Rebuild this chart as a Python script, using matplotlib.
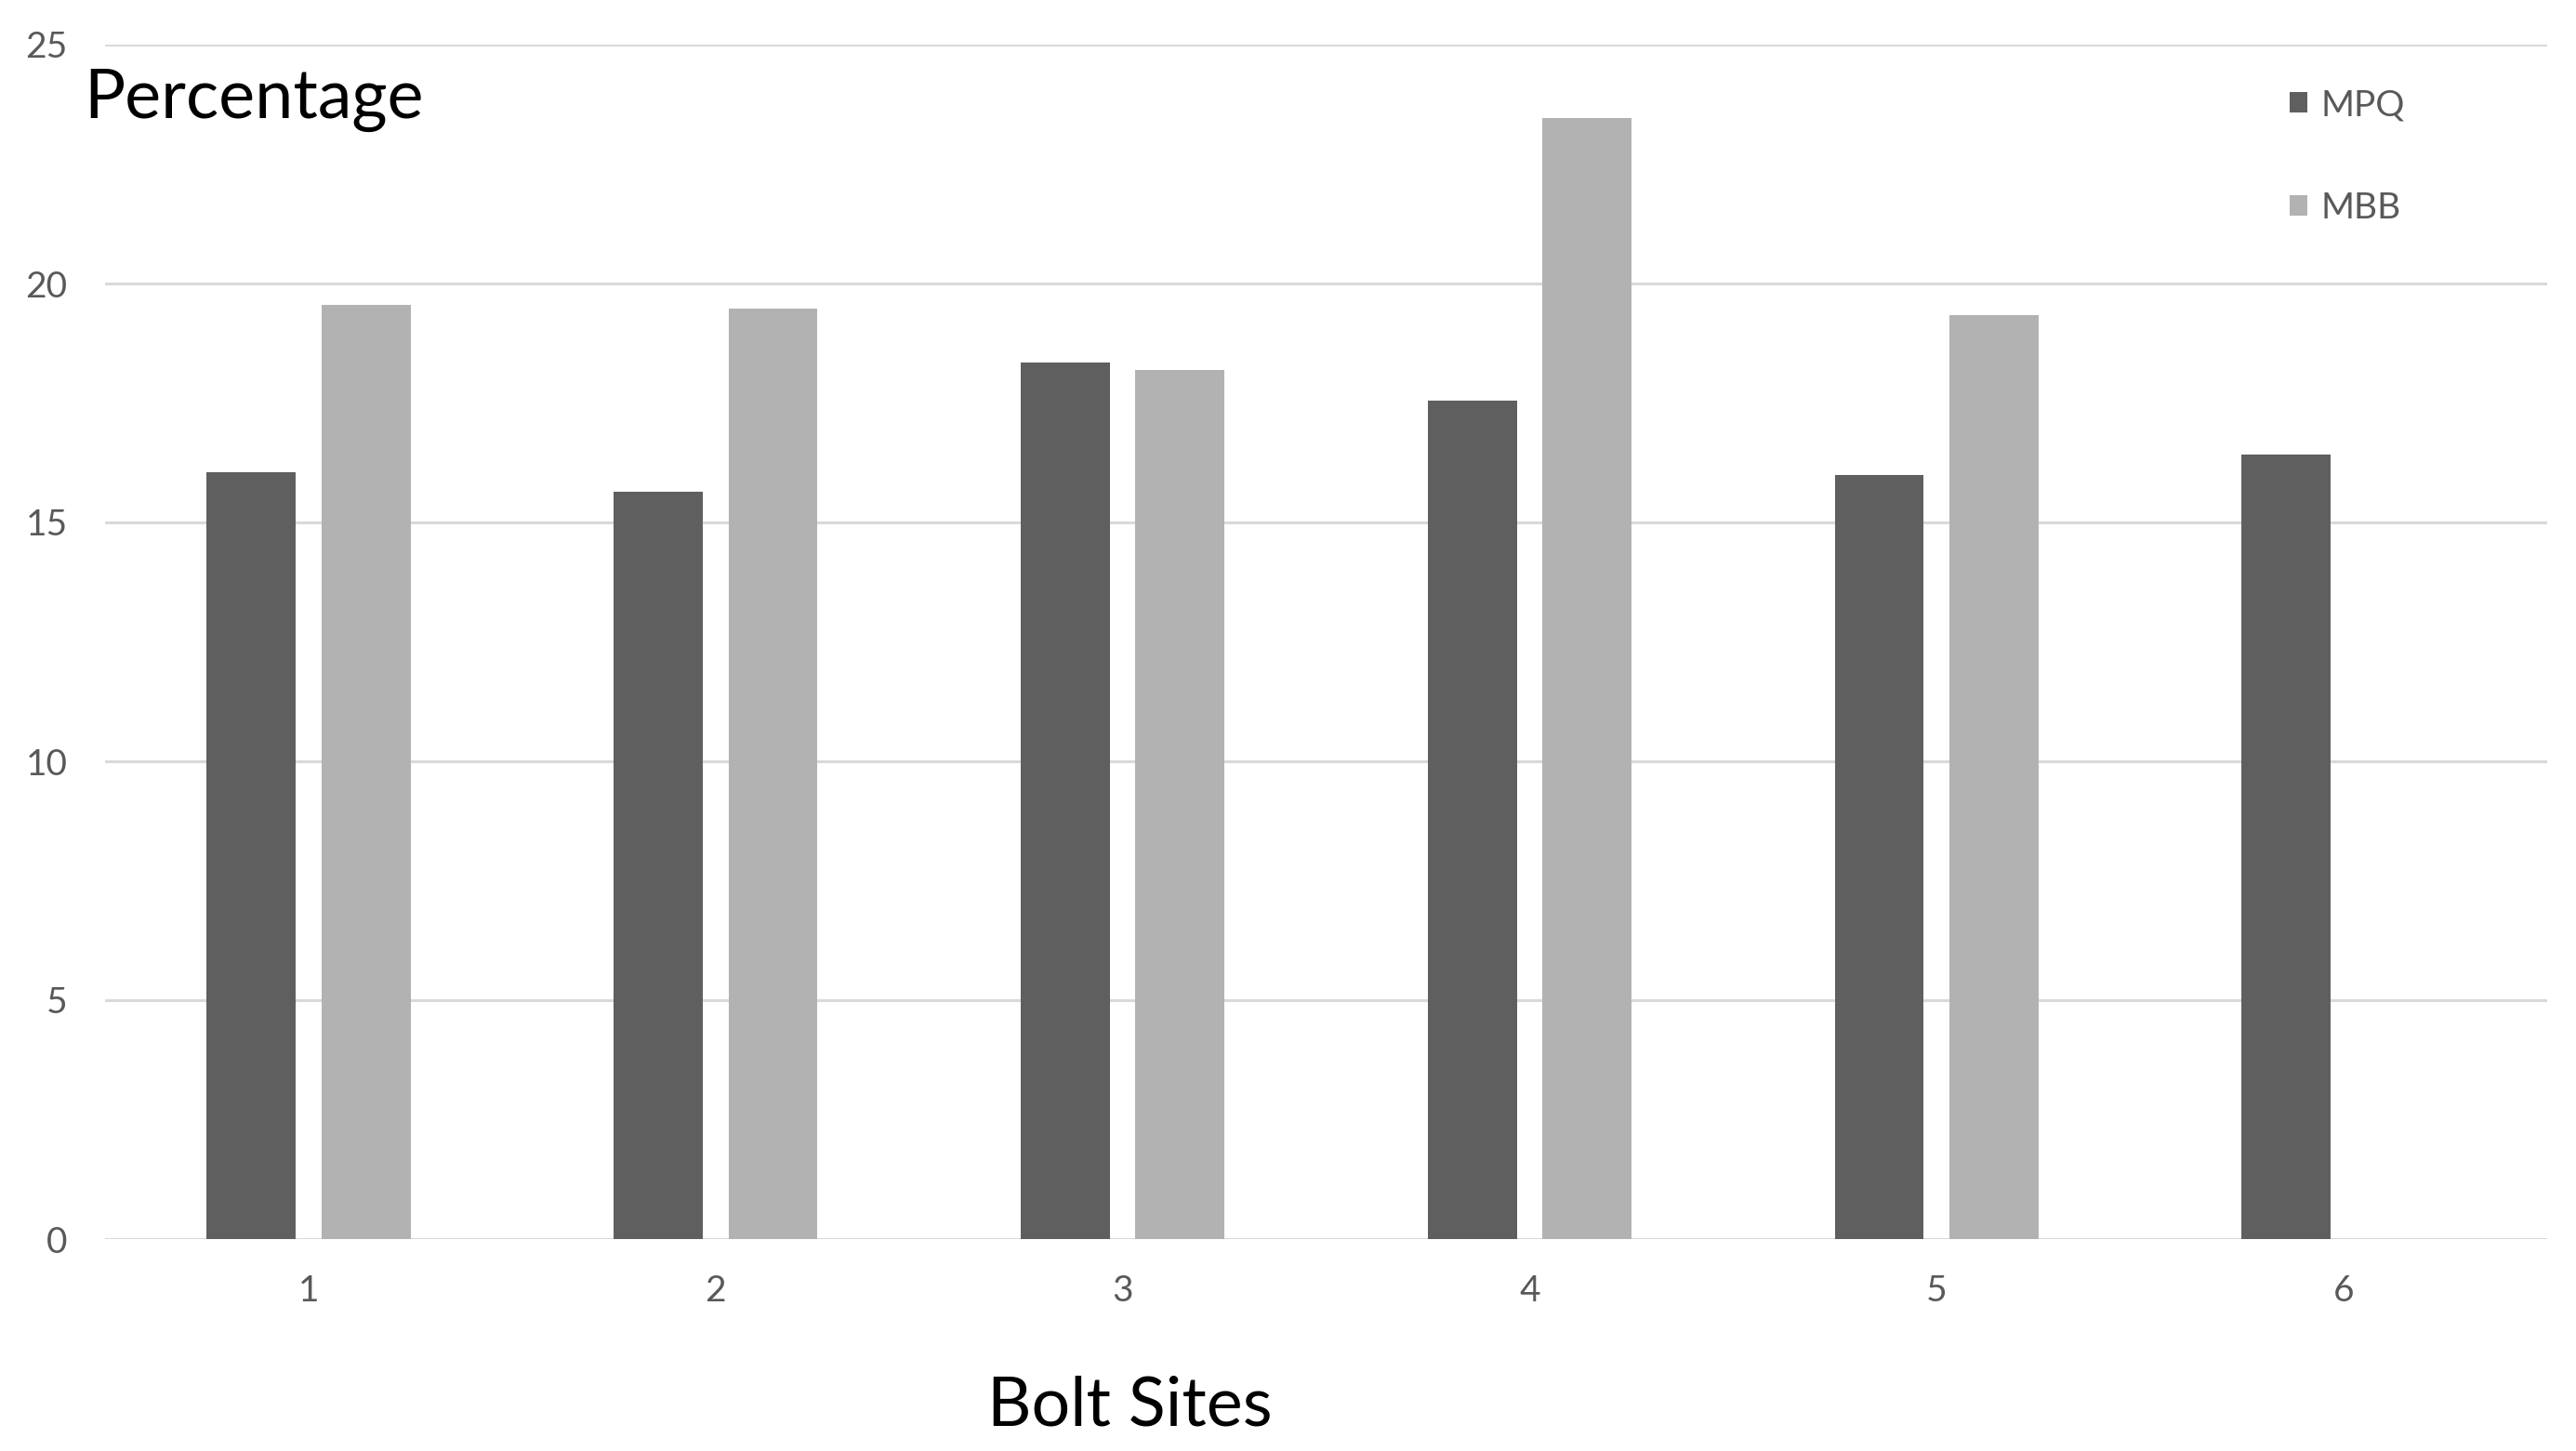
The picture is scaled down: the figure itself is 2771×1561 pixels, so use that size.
import matplotlib
matplotlib.use("Agg")
import matplotlib.pyplot as plt
import numpy as np
from matplotlib.patches import Patch

categories = ["1", "2", "3", "4", "5", "6"]
mpq = [16.05, 15.64, 18.34, 17.55, 15.99, 16.42]
mbb = [19.55, 19.47, 18.19, 23.47, 19.34, 0]
yticks = [0, 5, 10, 15, 20, 25]

W, H = 2771, 1561
DPI = 100
plt.rcParams['font.family'] = ['Lato', 'DejaVu Sans']

fig = plt.figure(figsize=(W / DPI, H / DPI), dpi=DPI)
fig.patch.set_facecolor('white')

left, right = 113 / W, 2740 / W
bottom, top = 1 - 1333 / H, 1 - 48 / H
ax = fig.add_axes([left, bottom, right - left, top - bottom])

x = np.arange(1, len(categories) + 1)
bw = 0.219
off = 0.141
c_mpq = '#5f5f5f'
c_mbb = '#b2b2b2'
ax.bar(x - off, mpq, width=bw, color=c_mpq, zorder=3)
ax.bar(x + off, mbb, width=bw, color=c_mbb, zorder=3)

ax.set_xlim(0.5, 6.5)
ax.set_ylim(0, 25)
ax.set_xticks(x)
ax.set_xticklabels(categories)
ax.set_yticks(yticks)
ax.tick_params(axis='both', length=0, labelsize=28, labelcolor='#595959')
ax.tick_params(axis='y', pad=29)
ax.tick_params(axis='x', pad=27)
ax.yaxis.grid(True, color='#d9d9d9', linewidth=2.2, zorder=0)
ax.xaxis.grid(False)
for s in ax.spines.values():
    s.set_visible(False)
ax.set_facecolor('white')

fig.text(90 / W, 1 - 127 / H, "Percentage", fontsize=53, color='black',
         ha='left', va='baseline')
fig.text(1215 / W, 1 - 1533 / H, "Bolt Sites", fontsize=53, color='black',
         ha='center', va='baseline')

handles = [Patch(facecolor=c_mpq, edgecolor='none'), Patch(facecolor=c_mbb, edgecolor='none')]
fig.legend(handles, ["MPQ", "MBB"], loc='upper left',
           bbox_to_anchor=(2463 / W, 1 - 95 / H), frameon=False,
           fontsize=28, labelcolor='#595959', handlelength=0.5, handleheight=0.5,
           handletextpad=0.35, labelspacing=1.93, borderpad=0, borderaxespad=0)

fig.savefig("out.png", dpi=DPI, facecolor='white')
